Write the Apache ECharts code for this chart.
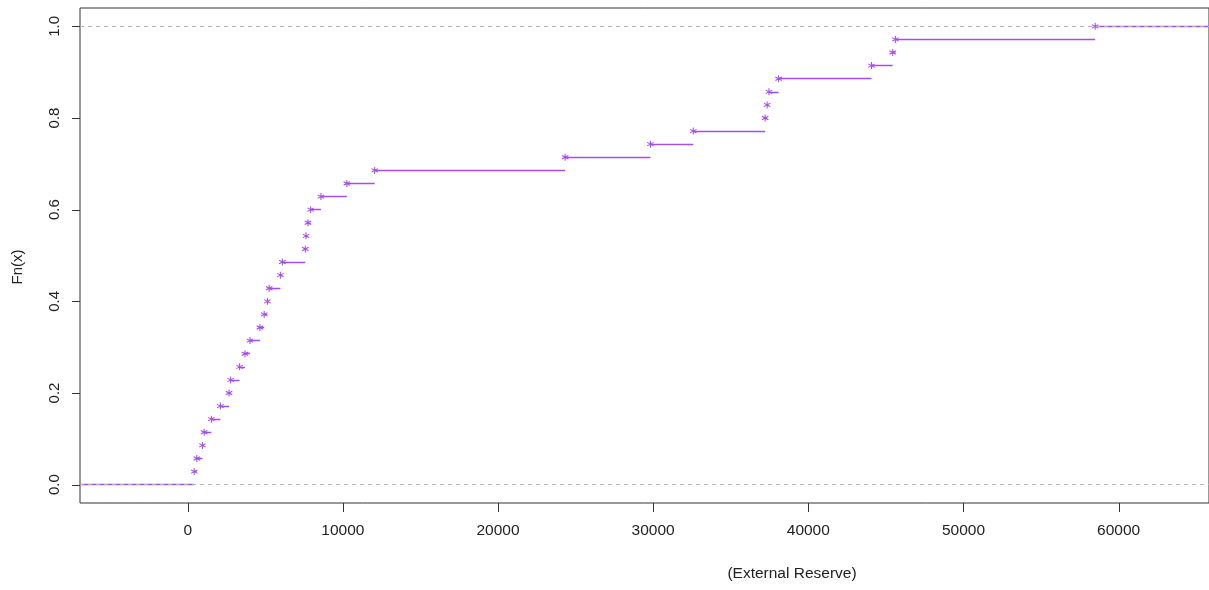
<!DOCTYPE html>
<html>
<head>
<meta charset="utf-8">
<script src="https://cdn.jsdelivr.net/npm/echarts@6/dist/echarts.min.js"></script>
<style>
html,body{margin:0;padding:0;background:#fff;}
#chart{width:1209px;height:590px;}
</style>
</head>
<body>
<div id="chart"></div>
<script>
const reserveValues = [417, 584, 950, 1059, 1527, 2105, 2663, 2766, 3343, 3690,
  4011, 4652, 4928, 5140, 5249, 5974, 6103, 7579, 7623, 7752,
  7925, 8586, 10254, 12051, 24327, 29826, 32585, 37219, 37347, 37463,
  38085, 44072, 45439, 45612, 58490];
const xTickValues = [0, 10000, 20000, 30000, 40000, 50000, 60000];
const yTickValues = [0, 0.2, 0.4, 0.6, 0.8, 1.0];
const refLevels = [0, 1];
const xTitle = '(External Reserve)';
const yTitle = 'Fn(x)';

const X_MIN = -6943, X_MAX = 65826;
const Y_MIN = -0.04, Y_MAX = 1.04;
const n = reserveValues.length;

// empirical CDF points (x_i, i/n) and horizontal steps
const ecdfPoints = reserveValues.map((v, i) => [v, (i + 1) / n]);
const stepSegments = [];
stepSegments.push({coords: [[X_MIN, 0], [reserveValues[0], 0]]});
for (let i = 0; i < n; i++) {
  const y = (i + 1) / n;
  const xEnd = i < n - 1 ? reserveValues[i + 1] : X_MAX;
  stepSegments.push({coords: [[reserveValues[i], y], [xEnd, y]]});
}

const PURPLE = '#A64BF2';
const AXIS_COLOR = '#333';
const STAR = 'path://M4.3 0 L5.7 0 L5.7 10 L4.3 10 Z M0.32 3.11 L1.02 1.89 L9.68 6.89 L8.98 8.11 Z M1.02 8.11 L0.32 6.89 L8.98 1.89 L9.68 3.11 Z';
const FONT = 'Liberation Sans, Arial, Helvetica, sans-serif';

const chart = echarts.init(document.getElementById('chart'));
chart.setOption({
  animation: false,
  backgroundColor: '#fff',
  grid: {left: 80, right: -5, top: 8, bottom: 87, show: true, borderColor: AXIS_COLOR, borderWidth: 1, backgroundColor: 'transparent'},
  xAxis: {
    type: 'value', min: X_MIN, max: X_MAX,
    axisLine: {show: false, onZero: false},
    splitLine: {show: false},
    axisTick: {show: false},
    axisLabel: {customValues: xTickValues, margin: 20, color: '#222', fontSize: 15.5, fontFamily: FONT, formatter: v => String(v)}
  },
  yAxis: {
    type: 'value', min: Y_MIN, max: Y_MAX,
    axisLine: {show: false, onZero: false},
    splitLine: {show: false},
    axisTick: {show: false},
    axisLabel: {customValues: yTickValues, rotate: 90, margin: 18, color: '#222', fontSize: 15, fontFamily: FONT, formatter: v => v.toFixed(1)}
  },
  series: [
    {
      type: 'lines', coordinateSystem: 'cartesian2d', polyline: false, silent: true,
      data: stepSegments,
      lineStyle: {color: PURPLE, width: 1.4, opacity: 1},
      z: 2
    },
    {
      type: 'scatter', silent: true,
      data: [],
      markLine: {
        silent: true, symbol: ['none', 'none'], label: {show: false},
        lineStyle: {color: '#b3b3b3', type: [4, 4], width: 1},
        data: refLevels.map(v => ({yAxis: v}))
      },
      z: 3
    },
    {
      type: 'scatter', silent: true,
      data: ecdfPoints,
      symbol: STAR, symbolSize: 7,
      itemStyle: {color: PURPLE, opacity: 1},
      z: 4
    },
    {
      // y-axis tick marks, drawn on a top layer through the axis scales
      type: 'custom', silent: true, clip: false, zlevel: 2, z: 10,
      data: yTickValues.map(v => [X_MIN, v]),
      encode: {x: 0, y: 1},
      renderItem: (params, api) => {
        const p = api.coord([api.value(0), api.value(1)]);
        const y = Math.round(p[1]);
        return {type: 'rect', shape: {x: Math.round(p[0]) - 8, y: y, width: 8, height: 1},
          style: {fill: AXIS_COLOR}};
      }
    },
    {
      // x-axis tick marks
      type: 'custom', silent: true, clip: false, zlevel: 2, z: 10,
      data: xTickValues.map(v => [v, Y_MIN]),
      encode: {x: 0, y: 1},
      renderItem: (params, api) => {
        const p = api.coord([api.value(0), api.value(1)]);
        return {type: 'rect', shape: {x: Math.round(p[0]), y: Math.round(p[1]), width: 1, height: 9},
          style: {fill: AXIS_COLOR}};
      }
    }
  ],
  graphic: [
    {type: 'text', x: 792, y: 574, style: {text: xTitle, font: '15.5px ' + FONT, fill: '#222', textAlign: 'center', textVerticalAlign: 'middle'}},
    {type: 'text', x: 18, y: 267, rotation: Math.PI / 2, style: {text: yTitle, font: '15px ' + FONT, fill: '#222', textAlign: 'center', textVerticalAlign: 'middle'}}
  ]
});
</script>
</body>
</html>
